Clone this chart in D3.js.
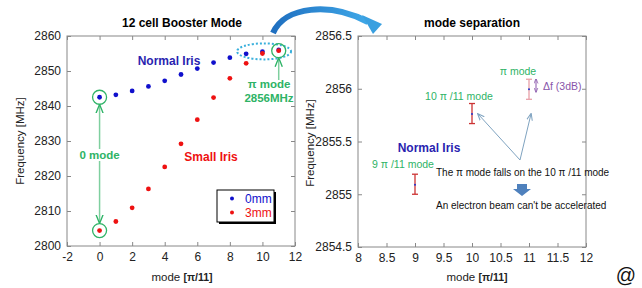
<!DOCTYPE html>
<html lang="en">
<head>
  <meta charset="UTF-8">
  <script src="https://d3js.org/d3.v7.min.js"></script>
  <style>
    body {
      background-color: #fff;
      margin: 0;
      overflow: hidden;
    }
    svg text {
      font-family: "Liberation Sans", Arial, sans-serif;
    }
    .axis path, .axis line {
      stroke: #888;
    }
    .axis text {
      font-size: 12px;
      fill: #222;
    }
  </style>
</head>
<body>

<svg width="642" height="288"></svg>

<script>
  // left chart: mode number vs frequency
  const modes = [0, 1, 2, 3, 4, 5, 6, 7, 8, 9, 10, 11];
  const freq0mm = [2842.5, 2843.2, 2844.3, 2845.6, 2847.2, 2849.0, 2850.7, 2852.4, 2853.8, 2854.9, 2855.5, 2856.0];
  const freq3mm = [2804.4, 2807.0, 2810.9, 2816.3, 2822.6, 2829.2, 2836.1, 2842.4, 2847.9, 2852.2, 2855.0, 2855.8];
  const leftXTicks = [-2, 0, 2, 4, 6, 8, 10, 12];
  const leftYTicks = [2800, 2810, 2820, 2830, 2840, 2850, 2860];

  // right chart: mode separation with 3dB width
  const sepModes = [9, 10, 11];
  const sepFreq = [2855.09, 2855.76, 2855.995];
  const sepLow = [2855.0, 2855.67, 2855.90];
  const sepHigh = [2855.19, 2855.86, 2856.09];
  const rightXTicks = [8, 8.5, 9, 9.5, 10, 10.5, 11, 11.5, 12];
  const rightYTicks = [2854.5, 2855, 2855.5, 2856, 2856.5];

  const svg = d3.select('svg');
  const green = '#2eb366';
  const plain = d => String(d);

  // arrow markers
  const defs = svg.append('defs');
  function marker(id, color, size) {
    defs.append('marker')
      .attr('id', id)
      .attr('viewBox', '0 0 10 10')
      .attr('refX', 9).attr('refY', 5)
      .attr('markerWidth', size).attr('markerHeight', size)
      .attr('orient', 'auto-start-reverse')
      .append('path')
      .attr('d', 'M0,1 L10,5 L0,9')
      .attr('fill', 'none')
      .attr('stroke', color)
      .attr('stroke-width', 1.5);
  }
  marker('arrGreen', green, 6);
  marker('arrGray', '#7fa3c0', 7);
  marker('arrPurple', '#8855aa', 5);

  const grad = defs.append('linearGradient').attr('id', 'bigArrow')
    .attr('x1', '0').attr('x2', '1').attr('y1', '0').attr('y2', '0');
  grad.append('stop').attr('offset', '0').attr('stop-color', '#1f6fc0');
  grad.append('stop').attr('offset', '1').attr('stop-color', '#3fa8e8');

  // draw a framed box with ticks inside on all four sides
  function frame(g, x, y, xTicks, yTicks) {
    const [x0, x1] = x.range();
    const [y0, y1] = y.range();
    g.append('g').attr('class', 'axis')
      .attr('transform', `translate(0,${y0})`)
      .call(d3.axisBottom(x).tickValues(xTicks).tickSizeInner(-4).tickSizeOuter(0).tickPadding(6).tickFormat(plain))
      .call(a => a.select('.domain').remove());
    g.append('g').attr('class', 'axis')
      .attr('transform', `translate(0,${y1})`)
      .call(d3.axisTop(x).tickValues(xTicks).tickSizeInner(-4).tickSizeOuter(0).tickFormat(''))
      .call(a => a.select('.domain').remove());
    g.append('g').attr('class', 'axis')
      .attr('transform', `translate(${x0},0)`)
      .call(d3.axisLeft(y).tickValues(yTicks).tickSizeInner(-4).tickSizeOuter(0).tickPadding(6).tickFormat(plain))
      .call(a => a.select('.domain').remove());
    g.append('g').attr('class', 'axis')
      .attr('transform', `translate(${x1},0)`)
      .call(d3.axisRight(y).tickValues(yTicks).tickSizeInner(-4).tickSizeOuter(0).tickFormat(''))
      .call(a => a.select('.domain').remove());
    g.append('rect')
      .attr('x', x0).attr('y', y1)
      .attr('width', x1 - x0).attr('height', y0 - y1)
      .attr('fill', 'none').attr('stroke', '#888');
  }

  // ---------- left chart ----------
  const xL = d3.scaleLinear().domain([-2, 12]).range([67, 295]);
  const yL = d3.scaleLinear().domain([2800, 2860]).range([246, 36]);
  const left = svg.append('g');
  frame(left, xL, yL, leftXTicks, leftYTicks);

  left.append('text').attr('x', 182).attr('y', 27)
    .attr('text-anchor', 'middle').attr('font-size', 12).attr('font-weight', 'bold')
    .text('12 cell Booster Mode');
  left.append('text').attr('transform', 'translate(24,141) rotate(-90)')
    .attr('text-anchor', 'middle').attr('font-size', 11.5).attr('fill', '#222')
    .text('Frequency [MHz]');
  const xlab = left.append('text').attr('x', 182).attr('y', 281)
    .attr('text-anchor', 'middle').attr('font-size', 11.5).attr('fill', '#222');
  xlab.append('tspan').text('mode  ');
  xlab.append('tspan').attr('font-weight', 'bold').attr('font-size', 10.5).text('[π/11]');

  // pi mode ellipse (behind the dots)
  left.append('ellipse')
    .attr('cx', xL(10.1)).attr('cy', yL(2855.6))
    .attr('rx', 27).attr('ry', 8)
    .attr('fill', 'none').attr('stroke', '#3ab0dc')
    .attr('stroke-width', 2).attr('stroke-dasharray', '2,2');

  left.selectAll('.d0').data(modes).enter().append('circle')
    .attr('cx', d => xL(d)).attr('cy', (d, i) => yL(freq0mm[i]))
    .attr('r', 2.4).attr('fill', '#1010cc');
  left.selectAll('.d3').data(modes).enter().append('circle')
    .attr('cx', d => xL(d)).attr('cy', (d, i) => yL(freq3mm[i]))
    .attr('r', 2.4).attr('fill', '#ee1111');

  // green circles and arrows
  [[0, freq0mm[0]], [0, freq3mm[0]], [11, freq3mm[11]]].forEach(p => {
    left.append('circle').attr('cx', xL(p[0])).attr('cy', yL(p[1]))
      .attr('r', 7).attr('fill', 'none').attr('stroke', green).attr('stroke-width', 1.3);
  });
  left.append('line')
    .attr('x1', xL(0)).attr('x2', xL(0))
    .attr('y1', 149).attr('y2', yL(freq0mm[0]) + 8)
    .attr('stroke', '#7fcf9f').attr('stroke-width', 1.5)
    .attr('marker-end', 'url(#arrGreen)');
  left.append('line')
    .attr('x1', xL(0)).attr('x2', xL(0))
    .attr('y1', 161).attr('y2', yL(freq3mm[0]) - 8)
    .attr('stroke', '#7fcf9f').attr('stroke-width', 1.5)
    .attr('marker-end', 'url(#arrGreen)');
  left.append('line')
    .attr('x1', xL(11)).attr('x2', xL(11))
    .attr('y1', 80).attr('y2', yL(freq3mm[11]) + 8)
    .attr('stroke', '#7fcf9f').attr('stroke-width', 1.5)
    .attr('marker-end', 'url(#arrGreen)');

  left.append('text').attr('x', xL(0)).attr('y', 159)
    .attr('text-anchor', 'middle').attr('font-size', 11.5).attr('font-weight', 'bold')
    .attr('fill', green).text('0 mode');
  left.append('text').attr('x', 269).attr('y', 88)
    .attr('text-anchor', 'middle').attr('font-size', 11.5).attr('font-weight', 'bold')
    .attr('fill', green).text('π mode');
  left.append('text').attr('x', 269).attr('y', 102)
    .attr('text-anchor', 'middle').attr('font-size', 11.5).attr('font-weight', 'bold')
    .attr('fill', green).text('2856MHz');
  left.append('text').attr('x', 169).attr('y', 65)
    .attr('text-anchor', 'middle').attr('font-size', 12).attr('font-weight', 'bold')
    .attr('fill', '#2a1fb0').text('Normal Iris');
  left.append('text').attr('x', 211).attr('y', 161)
    .attr('text-anchor', 'middle').attr('font-size', 12).attr('font-weight', 'bold')
    .attr('fill', '#ee1111').text('Small Iris');

  // legend
  const lg = left.append('g').attr('transform', 'translate(217,190)');
  lg.append('rect').attr('x', 2).attr('y', 2).attr('width', 57).attr('height', 32).attr('fill', '#000');
  lg.append('rect').attr('width', 57).attr('height', 32).attr('fill', '#fff').attr('stroke', '#000');
  [['0mm', '#1010cc'], ['3mm', '#ee1111']].forEach((e, i) => {
    lg.append('circle').attr('cx', 15).attr('cy', 8.5 + i * 14).attr('r', 2).attr('fill', e[1]);
    lg.append('text').attr('x', 28).attr('y', 13 + i * 14)
      .attr('font-size', 12).attr('fill', e[1]).text(e[0]);
  });

  // ---------- right chart ----------
  const xR = d3.scaleLinear().domain([8, 12]).range([358, 586]);
  const yR = d3.scaleLinear().domain([2854.5, 2856.5]).range([247, 36]);
  const right = svg.append('g');
  frame(right, xR, yR, rightXTicks, rightYTicks);

  right.append('text').attr('x', 472).attr('y', 27)
    .attr('text-anchor', 'middle').attr('font-size', 12).attr('font-weight', 'bold')
    .text('mode separation');
  right.append('text').attr('transform', 'translate(314,143) rotate(-90)')
    .attr('text-anchor', 'middle').attr('font-size', 11.5).attr('fill', '#222')
    .text('Frequency [MHz]');
  const xlab2 = right.append('text').attr('x', 477).attr('y', 281)
    .attr('text-anchor', 'middle').attr('font-size', 11.5).attr('fill', '#222');
  xlab2.append('tspan').text('mode   ');
  xlab2.append('tspan').attr('font-weight', 'bold').attr('font-size', 10.5).text('[π/11]');

  const barColors = ['#cc3333', '#cc3333', '#e8a0a8'];
  sepModes.forEach((m, i) => {
    const cx = xR(m);
    const g = right.append('g').attr('stroke', barColors[i]).attr('stroke-width', 1.3);
    g.append('line').attr('x1', cx).attr('x2', cx).attr('y1', yR(sepLow[i])).attr('y2', yR(sepHigh[i]));
    g.append('line').attr('x1', cx - 3).attr('x2', cx + 3).attr('y1', yR(sepLow[i])).attr('y2', yR(sepLow[i]));
    g.append('line').attr('x1', cx - 3).attr('x2', cx + 3).attr('y1', yR(sepHigh[i])).attr('y2', yR(sepHigh[i]));
    right.append('circle').attr('cx', cx).attr('cy', yR(sepFreq[i])).attr('r', 1).attr('fill', '#2233cc');
  });

  // annotations
  const annoFont = 10.5;
  right.append('text').attr('x', 518).attr('y', 75)
    .attr('text-anchor', 'middle').attr('font-size', annoFont).attr('fill', green).text('π mode');
  right.append('line')
    .attr('x1', 536).attr('x2', 536).attr('y1', 79).attr('y2', 92)
    .attr('stroke', '#8855aa').attr('stroke-width', 1)
    .attr('marker-start', 'url(#arrPurple)').attr('marker-end', 'url(#arrPurple)');
  right.append('text').attr('x', 543).attr('y', 89.5)
    .attr('font-size', annoFont).attr('fill', '#8855aa').text('Δf (3dB)');
  right.append('text').attr('x', 459).attr('y', 100)
    .attr('text-anchor', 'middle').attr('font-size', annoFont).attr('fill', green).text('10 π /11 mode');
  right.append('text').attr('x', 429).attr('y', 152)
    .attr('text-anchor', 'middle').attr('font-size', 12).attr('font-weight', 'bold')
    .attr('fill', '#2a1fb0').text('Normal Iris');
  right.append('text').attr('x', 403).attr('y', 167.5)
    .attr('text-anchor', 'middle').attr('font-size', annoFont).attr('fill', green).text('9 π /11 mode');

  // pointer lines from the note to the two modes
  right.append('line')
    .attr('x1', 520).attr('y1', 160).attr('x2', xR(10) + 6).attr('y2', yR(2855.78) + 2)
    .attr('stroke', '#7fa3c0').attr('stroke-width', 1)
    .attr('marker-end', 'url(#arrGray)');
  right.append('line')
    .attr('x1', 520).attr('y1', 160).attr('x2', xR(11) + 2).attr('y2', yR(2855.78) + 2)
    .attr('stroke', '#7fa3c0').attr('stroke-width', 1)
    .attr('marker-end', 'url(#arrGray)');

  right.append('text').attr('x', 436).attr('y', 175.5)
    .attr('font-size', 10).attr('fill', '#111').text('The π mode falls on the 10 π /11 mode');
  right.append('path')
    .attr('d', 'M517,184 L527,184 L527,189 L531,189 L522,196 L513,189 L517,189 Z')
    .attr('fill', '#4f81bd');
  right.append('text').attr('x', 436).attr('y', 209)
    .attr('font-size', 10).attr('fill', '#111').text('An electron beam  can\'t  be accelerated');

  // big curved arrow from the left plot to the right plot
  svg.append('path')
    .attr('d', 'M273,33 C285,6 330,2 368,22')
    .attr('fill', 'none').attr('stroke', 'url(#bigArrow)').attr('stroke-width', 6);
  svg.append('path')
    .attr('d', 'M362,15 L382,24 L373,34 Z')
    .attr('fill', '#3aa0e0');

  svg.append('text').attr('x', 626).attr('y', 282)
    .attr('text-anchor', 'middle').attr('font-size', 20).attr('fill', '#111').text('@');
</script>

</body>
</html>
